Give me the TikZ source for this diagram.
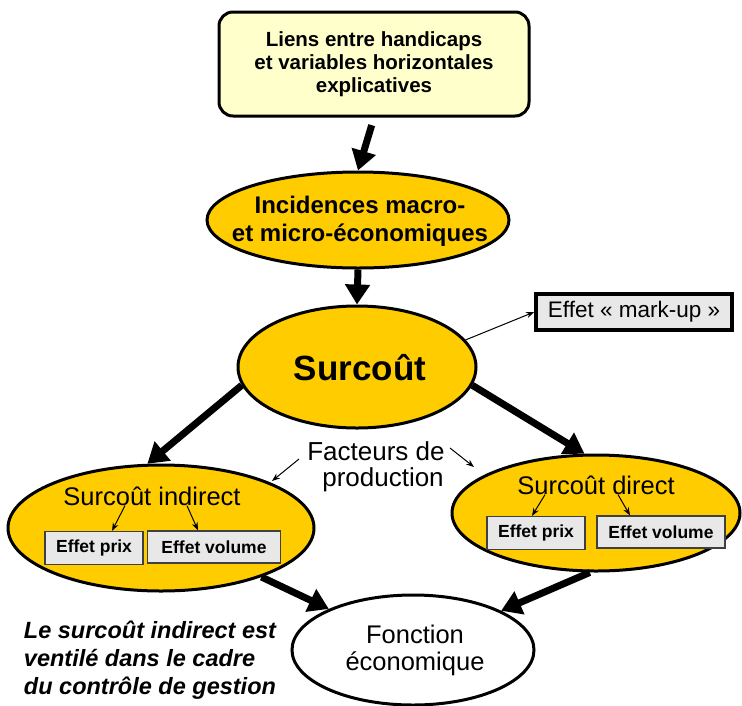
\documentclass[tikz,border=0pt]{standalone}
\usepackage{fontspec}
\setmainfont{Liberation Sans}
\usetikzlibrary{arrows.meta,shapes.geometric}
\definecolor{gold}{RGB}{255,204,0}
\definecolor{paleyellow}{RGB}{255,255,204}
\definecolor{boxgray}{RGB}{232,232,232}
\begin{document}
\begin{tikzpicture}[x=1pt,y=-1pt,
  goldell/.style={ellipse, draw=black, line width=3pt, fill=gold, inner sep=0pt, align=center},
  bigarrow/.style={line width=7pt, -{Triangle[length=20pt,width=24pt]}},
  thinarrow/.style={line width=1pt, -{Stealth[length=8pt,width=6pt]}},
  smallbox/.style={draw=black!75, line width=1.2pt, fill=boxgray, inner sep=0pt, font=\bfseries\fontsize{17.5}{20}\selectfont},
  plaintext/.style={inner sep=0pt, align=center, font=\fontsize{25.5}{27}\selectfont}]
\useasboundingbox (0,0) rectangle (742,705);
\fill[white] (0,0) rectangle (742,705);

\node[draw, rounded corners=14pt, line width=3pt, fill=paleyellow, minimum width=310pt, minimum height=104pt, align=center, font=\bfseries\fontsize{20.5}{23}\selectfont] (top) at (374,64) {Liens entre handicaps\\ et variables horizontales\\ explicatives};

\node[goldell, minimum width=302pt, minimum height=96pt] (inc) at (358,220) {};
\node[inner sep=0pt, align=center, font=\bfseries\fontsize{24}{28}\selectfont] (tinc) at (360,221) {Incidences macro-\\et micro-économiques};

\node[goldell, minimum width=238pt, minimum height=122pt] (sur) at (357,367) {};
\node[inner sep=0pt, font=\bfseries\fontsize{35}{38}\selectfont] (tsur) at (360,368) {Surcoût};

\node[draw, line width=3.5pt, fill=boxgray, minimum width=196pt, minimum height=36pt, inner sep=0pt, font=\fontsize{22.5}{24}\selectfont] (mk) at (634,312) {Effet «~mark-up~»};

\node[goldell, minimum width=306pt, minimum height=126pt] (ind) at (161,528) {};
\node[plaintext] (tind) at (152,496) {Surcoût indirect};
\node[smallbox, minimum width=98pt, minimum height=33pt] (ep1) at (94,548) {Effet prix};
\node[smallbox, minimum width=133pt, minimum height=32pt] (ev1) at (214,547) {Effet volume};

\node[goldell, minimum width=288pt, minimum height=116pt] (dir) at (596,513) {};
\node[plaintext] (tdir) at (596,485) {Surcoût direct};
\node[smallbox, minimum width=98pt, minimum height=33pt] (ep2) at (536,533) {Effet prix};
\node[smallbox, minimum width=128pt, minimum height=32pt] (ev2) at (661,532) {Effet volume};

\node[plaintext, font=\fontsize{26}{26}\selectfont] (fac) at (376,467) {Facteurs de\\\hspace*{14pt}production};

\node[ellipse, draw=black, line width=3pt, fill=white, minimum width=242pt, minimum height=110pt, inner sep=0pt] (fon) at (413,650) {};
\node[inner sep=0pt, align=center, font=\fontsize{25.5}{27}\selectfont] (tfon) at (415,650) {Fonction\\économique};

\node[inner sep=0pt, align=left, font=\bfseries\itshape\fontsize{23.5}{28}\selectfont] (note) at (150,660) {Le surcoût indirect est\\ventilé dans le cadre\\du contrôle de gestion};

% big arrows
\draw[bigarrow, shorten <=8pt] (top.south) -- (inc.north);
\draw[bigarrow] (inc.south) -- (sur.north);
\draw[bigarrow] (sur.189) -- (ind.102);
\draw[bigarrow] (sur.351) -- (dir.101);
\draw[bigarrow] (ind.334) -- (fon.154);
\draw[bigarrow] (dir.264) -- (fon.24);

% thin arrows
\draw[thinarrow] (sur.14) -- (mk.west);
\coordinate (f1) at (299,459);
\coordinate (f1e) at (272,481);
\coordinate (f2) at (450,448);
\coordinate (f2e) at (474,467);
\draw[thinarrow] (f1) -- (f1e);
\draw[thinarrow] (f2) -- (f2e);
\draw[thinarrow] ([xshift=-27pt]tind.south) -- ([xshift=18pt]ep1.north);
\draw[thinarrow] ([xshift=35pt]tind.south) -- ([xshift=-16pt]ev1.north);
\draw[thinarrow] ([xshift=-51pt]tdir.south) -- ([xshift=-4pt]ep2.north);
\draw[thinarrow] ([xshift=22pt]tdir.south) -- ([xshift=-31pt]ev2.north);
\end{tikzpicture}
\end{document}
